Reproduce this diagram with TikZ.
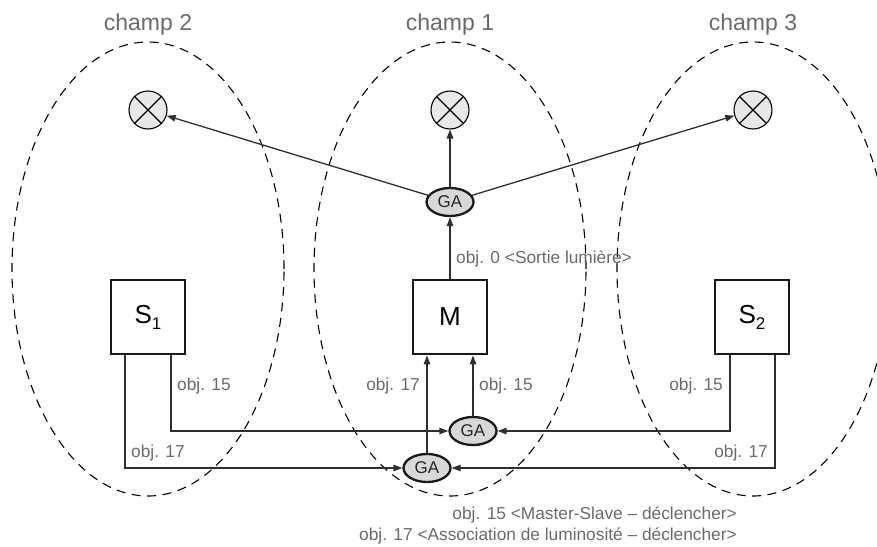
\documentclass[tikz,border=0pt]{standalone}
\usepackage{fontspec}
\setmainfont{Liberation Sans}
\usepackage{tikz}
\usetikzlibrary{arrows.meta,shapes.geometric}
\definecolor{label-grey}{HTML}{6A6A6A}
\definecolor{link-grey}{HTML}{2E2E2E}
\definecolor{lamp-fill}{HTML}{E8E8E8}
\definecolor{ga-fill}{HTML}{D8D8D8}
\tikzset{
    field-zone/.style = {draw=black, dash pattern=on 9pt off 6.5pt, line width=1.1pt},
    lamp/.style = {draw, circle, fill=lamp-fill, minimum size=38pt, inner sep=0pt, line width=1.1pt,
        path picture={\draw[line width=1.1pt] (path picture bounding box.north west) -- (path picture bounding box.south east)
            (path picture bounding box.north east) -- (path picture bounding box.south west);}},
    ga/.style = {draw=black!90, ellipse, fill=ga-fill, line width=2.3pt, minimum width=47pt, minimum height=28pt, inner sep=0pt, font=\fontsize{17}{17}\selectfont, text=black!85},
    device/.style = {draw=black!90, line width=2.8pt, minimum size=74pt, inner sep=0pt, font=\fontsize{26}{26}\selectfont},
    obj-label/.style = {text=label-grey, inner sep=0pt, font=\fontsize{17.3}{20}\selectfont},
    champ-title/.style = {text=label-grey, inner sep=0pt, font=\fontsize{23}{24}\selectfont},
    link/.style = {draw=link-grey, line width=1.3pt, -{Triangle[length=9pt,width=6.5pt]}},
}

\begin{document}
\begin{tikzpicture}[x=1pt,y=-1pt]
\useasboundingbox (0,0) rectangle (877,546);
\clip (0,0) rectangle (877,546);
\foreach \cx/\n in {148/2,450/1,753/3}{
    \draw[field-zone] (\cx,269) ellipse [x radius=136pt, y radius=227pt];
    \node[champ-title] (title-\n) at (\cx,25) {champ \n};
    \node[lamp] (lamp-\n) at (\cx,110) {};
}
\node[ga] (ga-out) at (450,202) {GA};
\node[device] (s-1) at (148,317) {S\raisebox{-6pt}{\fontsize{17}{17}\selectfont 1}};
\node[device] (m) at (450,317) {M};
\node[device] (s-2) at (752,317) {S\raisebox{-6pt}{\fontsize{17}{17}\selectfont 2}};
\node[ga] (ga-15) at (473,431) {GA};
\node[ga] (ga-17) at (427,468) {GA};

\draw[link] (m.north) -- (ga-out.south);
\draw[link] (ga-out.north) -- (lamp-1.south);
\draw[link] (ga-out) -- (lamp-2);
\draw[link] (ga-out) -- (lamp-3);

\draw[link] ([xshift=23pt]s-1.south) |- (ga-15.west);
\draw[link] ([xshift=-23pt]s-1.south) |- (ga-17.west);
\draw[link] ([xshift=-22pt]s-2.south) |- (ga-15.east);
\draw[link] ([xshift=23pt]s-2.south) |- (ga-17.east);
\draw[link] (ga-17.north) -- (ga-17.north |- m.south);
\draw[link] (ga-15.north) -- (ga-15.north |- m.south);

\node[obj-label, anchor=west] (obj-0) at (456,259) {obj. 0 <Sortie lumière>};
\node[obj-label, anchor=west] (obj-15-s1) at (177,386) {obj. 15};
\node[obj-label, anchor=west] (obj-17-s1) at (131,453) {obj. 17};
\node[obj-label, anchor=east] (obj-17-m) at (420,386) {obj. 17};
\node[obj-label, anchor=west] (obj-15-m) at (479,386) {obj. 15};
\node[obj-label, anchor=east] (obj-15-s2) at (723,386) {obj. 15};
\node[obj-label, anchor=east] (obj-17-s2) at (768,453) {obj. 17};
\node[obj-label, anchor=east] (legend-15) at (737,515) {obj. 15 <Master-Slave – déclencher>};
\node[obj-label, anchor=east] (legend-17) at (737,536) {obj. 17 <Association de luminosité – déclencher>};
\end{tikzpicture}
\end{document}
